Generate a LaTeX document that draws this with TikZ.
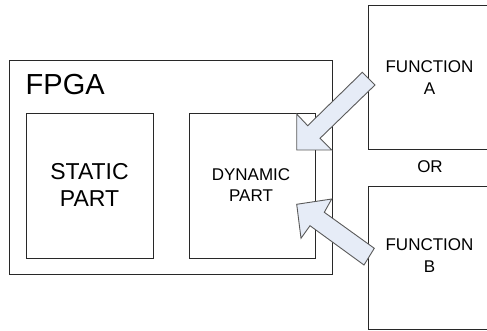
\documentclass[tikz,border=0pt]{standalone}
\usepackage{fontspec}
\setmainfont{Liberation Sans}
\definecolor{arrowfill}{RGB}{230,236,247}
\definecolor{arrowline}{RGB}{90,90,90}
\definecolor{boxline}{RGB}{40,40,40}
\begin{document}
\begin{tikzpicture}[x=1pt,y=-1pt,
  box/.style={draw=boxline,line width=1pt,inner sep=0pt,fill=white},
  bigarrow/.style={draw=arrowline,fill=arrowfill,line width=0.9pt,line join=miter},
  lbl/.style={align=center,inner sep=0pt}]
\useasboundingbox (0,0) rectangle (487,331);
\clip (0,0) rectangle (487,331);
% boxes
\node[box,minimum width=323.7pt,minimum height=214.4pt] (fpga) at (170.85,167.5) {};
\node[box,minimum width=126.3pt,minimum height=144.7pt] (static) at (89.85,185.65) {};
\node[box,minimum width=126pt,minimum height=144.7pt] (dyn) at (252,185.65) {};
\node[box,minimum width=130pt,minimum height=143.3pt] (fa) at (433.3,77.65) {};
\node[box,minimum width=130pt,minimum height=142.6pt] (fb) at (433.5,258) {};
% texts
\node[lbl,anchor=base west,font=\fontsize{29}{32}\selectfont] (fpgat) at (25.5,94.5) {FPGA};
\node[lbl,font=\fontsize{23}{27}\selectfont] (statict) at (89.5,185) {STATIC\\PART};
\node[lbl,font=\fontsize{17}{21.5}\selectfont] (dynt) at (251,185) {DYNAMIC\\PART};
\node[lbl,font=\fontsize{17}{22}\selectfont] (fat) at (429.5,77.5) {FUNCTION\\A};
\node[lbl,font=\fontsize{17}{22}\selectfont] (fbt) at (429.5,256) {FUNCTION\\B};
\node[lbl,anchor=base,font=\fontsize{17}{20}\selectfont] (ort) at (430,173) {OR};
% block arrows
\draw[bigarrow] (362.3,72.3) -- (375,85) -- (320,138.3) -- (331.7,150) -- (296.7,150)
  -- (296.7,114) -- (307.7,125.7) -- cycle;
\draw[bigarrow] (374.3,248.3) -- (364,265) -- (310,225.7) -- (301,238.3) -- (296.7,204.3)
  -- (331.7,199) -- (324.3,212.3) -- cycle;
\end{tikzpicture}
\end{document}
